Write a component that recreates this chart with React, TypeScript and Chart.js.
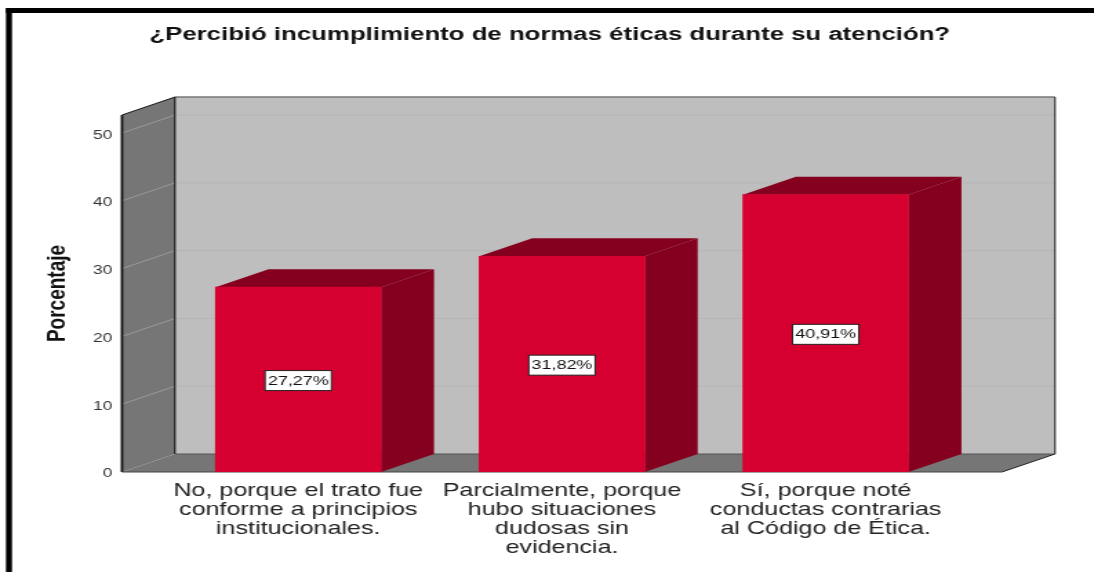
import React, { useEffect, useRef } from "react";
import { Chart, registerables } from "chart.js";

Chart.register(...registerables);

const categories: string[][] = [
  ["No, porque el trato fue", "conforme a principios", "institucionales."],
  ["Parcialmente, porque", "hubo situaciones", "dudosas sin", "evidencia."],
  ["Sí, porque noté", "conductas contrarias", "al Código de Ética."],
];
const percentages = [27.27, 31.82, 40.91];
const titleText = "¿Percibió incumplimiento de normas éticas durante su atención?";
const yAxisTitle = "Porcentaje";

const S = 1094 / 793;
const DX = 53 / S;
const DY = 18;
const FONT = "'Liberation Sans', Arial, sans-serif";

const poly = (ctx: CanvasRenderingContext2D, pts: number[][], fill: string) => {
  ctx.beginPath();
  pts.forEach(([x, y], i) => (i ? ctx.lineTo(x, y) : ctx.moveTo(x, y)));
  ctx.closePath();
  ctx.fillStyle = fill;
  ctx.fill();
};
const line = (ctx: CanvasRenderingContext2D, a: number[], b: number[], color: string, w: number) => {
  ctx.beginPath();
  ctx.moveTo(a[0], a[1]);
  ctx.lineTo(b[0], b[1]);
  ctx.strokeStyle = color;
  ctx.lineWidth = w;
  ctx.stroke();
};

const box3d = {
  id: "box3d",
  beforeDatasetsDraw(chart: any) {
    const { ctx, chartArea: a, scales } = chart;
    const { left: l, right: r, top: t, bottom: b } = a;
    ctx.save();
    // page frame
    ctx.fillStyle = "#000";
    ctx.fillRect(6 / S, 8, chart.width, 5);
    ctx.fillRect(6 / S, 8, 6 / S, chart.height);
    // walls
    poly(ctx, [[l + DX, t - DY], [r + DX, t - DY], [r + DX, b - DY], [l + DX, b - DY]], "#bebebe");
    poly(ctx, [[l, t], [l + DX, t - DY], [l + DX, b - DY], [l, b]], "#767676");
    poly(ctx, [[l, b], [l + DX, b - DY], [r + DX, b - DY], [r, b]], "#767676");
    // grid lines follow the y scale
    scales.y.ticks.forEach((tk: any) => {
      const y = scales.y.getPixelForValue(tk.value);
      if (tk.value === 0) return;
      line(ctx, [l, y], [l + DX, y - DY], "#9a9a9a", 1);
      line(ctx, [l + DX, y - DY], [r + DX, y - DY], "#b5b5b5", 1);
    });
    // edges
    line(ctx, [l + DX, t - DY], [r + DX, t - DY], "#777777", 1.5);
    line(ctx, [l + DX, t - DY], [l + DX, b - DY], "#000", 1);
    line(ctx, [r + DX, t - DY], [r + DX, b - DY], "#333", 1.2);
    line(ctx, [l + DX, b - DY], [r + DX, b - DY], "#555", 1);
    line(ctx, [l, t], [l + DX, t - DY], "#111", 1);
    line(ctx, [l, t], [l, b], "#111", 1.8);
    line(ctx, [r, b], [r + DX, b - DY], "#222", 1);
    line(ctx, [l, b], [r, b], "#444", 1.2);
    // bar sides and tops
    chart.getDatasetMeta(0).data.forEach((bar: any) => {
      const x0 = bar.x - bar.width / 2;
      const x1 = bar.x + bar.width / 2;
      poly(ctx, [[x1, bar.y], [x1 + DX, bar.y - DY], [x1 + DX, bar.base - DY], [x1, bar.base]], "#85001f");
      poly(ctx, [[x0, bar.y], [x0 + DX, bar.y - DY], [x1 + DX, bar.y - DY], [x1, bar.y]], "#85001f");
    });
    ctx.restore();
  },
  afterDatasetsDraw(chart: any) {
    const { ctx } = chart;
    ctx.save();
    ctx.font = `13px ${FONT}`;
    ctx.textAlign = "center";
    ctx.textBaseline = "middle";
    chart.getDatasetMeta(0).data.forEach((bar: any, i: number) => {
      const text = percentages[i].toFixed(2).replace(".", ",") + "%";
      const my = (bar.y + bar.base) / 2 + 1;
      const w = ctx.measureText(text).width + 4;
      ctx.fillStyle = "#fff";
      ctx.fillRect(bar.x - w / 2, my - 10, w, 20);
      ctx.strokeStyle = "#222";
      ctx.lineWidth = 1;
      ctx.strokeRect(bar.x - w / 2, my - 10, w, 20);
      ctx.fillStyle = "#111";
      ctx.fillText(text, bar.x, my + 0.5);
    });
    ctx.restore();
  },
};

export default function App() {
  const ref = useRef<HTMLCanvasElement>(null);
  useEffect(() => {
    const canvas = ref.current!;
    const chart = new Chart(canvas, {
      type: "bar",
      data: {
        datasets: [
          {
            data: percentages.map((v, i) => ({ x: i, y: v })),
            backgroundColor: "#d60030",
            borderWidth: 0,
            barThickness: 165.5 / S,
          },
        ],
      },
      options: {
        animation: false,
        responsive: false,
        devicePixelRatio: 1,
        layout: { padding: { left: 4, right: 0, top: 0, bottom: 0 } },
        plugins: {
          legend: { display: false },
          tooltip: { enabled: false },
          title: {
            display: true,
            text: titleText,
            color: "#111",
            font: { family: FONT, size: 18.7, weight: "bold", lineHeight: 1.2 },
            padding: { top: 24, bottom: 68.6 },
          },
        },
        scales: {
          x: {
            type: "linear",
            offset: false,
            min: -0.6685,
            max: 2.6685,
            grid: { display: false, drawTicks: false },
            border: { display: false },
            afterFit: (s: any) => {
              s.height = 100;
              s.paddingLeft = 0;
              s.paddingRight = 0;
            },
            ticks: {
              stepSize: 1,
              includeBounds: false,
              autoSkip: false,
              maxRotation: 0,
              padding: 10,
              color: "#222",
              font: { family: FONT, size: 18.2, lineHeight: 1.04 },
              callback: (v: any) => categories[v] ?? "",
            },
          },
          y: {
            min: 0,
            max: 52.66,
            grid: { display: false, drawTicks: false },
            border: { display: false },
            afterFit: (s: any) => {
              s.width = 122 / S - 4;
            },
            title: {
              display: true,
              text: yAxisTitle,
              color: "#111",
              font: { family: FONT, size: 19, weight: "bold" },
              padding: { top: 26, bottom: 0 },
            },
            ticks: {
              stepSize: 10,
              includeBounds: false,
              padding: 7,
              labelOffset: 2,
              color: "#333",
              font: { family: FONT, size: 12.5 },
            },
          },
          // empty strip on the right, so the axis box ends where the floor does
          y2: {
            type: "linear",
            position: "right",
            min: 0,
            max: 52.66,
            grid: { display: false, drawTicks: false },
            border: { display: false },
            ticks: { display: false },
            afterFit: (s: any) => {
              s.width = 793 - 1002 / S;
            },
          },
        },
      },
      plugins: [box3d],
    } as any);
    return () => chart.destroy();
  }, []);
  return (
    <canvas
      ref={ref}
      width={793}
      height={572}
      style={{ position: "absolute", left: 0, top: 0, width: "1094px", height: "572px", background: "#fff" }}
    />
  );
}
